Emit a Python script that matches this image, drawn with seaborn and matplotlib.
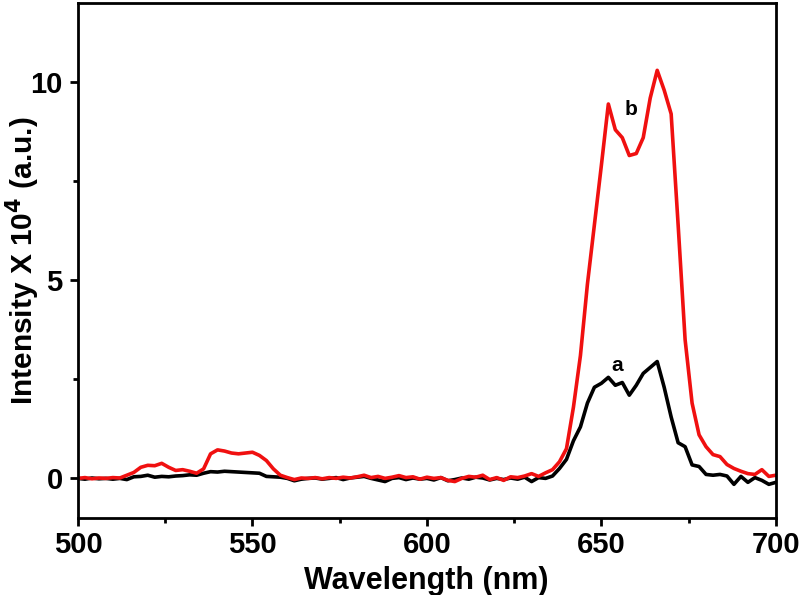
import numpy as np
import pandas as pd
import matplotlib
matplotlib.use("Agg")
import matplotlib.pyplot as plt
import seaborn as sns
from matplotlib.ticker import MultipleLocator

wavelength = list(range(500, 701, 2))

curve_b = [0.00, 0.02, -0.01, 0.01, 0.00, 0.02, 0.01, 0.08, 0.15, 0.28,
           0.33, 0.32, 0.38, 0.28, 0.20, 0.22, 0.18, 0.13, 0.24, 0.62,
           0.72, 0.69, 0.64, 0.62, 0.64, 0.66, 0.58, 0.45, 0.24, 0.08,
           0.02, -0.03, 0.01, 0.00, 0.02, -0.01, 0.02, 0.00, 0.03, 0.01,
           0.04, 0.08, 0.02, 0.05, 0.00, 0.03, 0.07, 0.02, 0.04, -0.02,
           0.03, 0.00, 0.02, -0.05, -0.08, 0.00, 0.05, 0.03, 0.08, -0.03,
           0.02, -0.05, 0.04, 0.02, 0.06, 0.12, 0.05, 0.14, 0.22, 0.42,
           0.75, 1.80, 3.10, 4.90, 6.40, 7.90, 9.45, 8.80, 8.60, 8.15,
           8.20, 8.60, 9.60, 10.30, 9.80, 9.20, 6.40, 3.50, 1.90, 1.10,
           0.80, 0.60, 0.55, 0.35, 0.25, 0.18, 0.12, 0.10, 0.22, 0.05,
           0.08]

curve_a = [0.00, -0.02, 0.01, -0.01, 0.00, -0.02, 0.00, -0.03, 0.04, 0.05,
           0.08, 0.03, 0.05, 0.04, 0.06, 0.07, 0.09, 0.08, 0.13, 0.17,
           0.16, 0.18, 0.17, 0.16, 0.15, 0.14, 0.13, 0.05, 0.04, 0.03,
           0.00, -0.06, -0.02, 0.00, 0.01, -0.02, 0.00, 0.02, -0.03, 0.01,
           0.03, 0.05, 0.00, -0.04, -0.08, 0.00, 0.02, -0.03, 0.01, -0.02,
           0.00, -0.04, 0.02, -0.06, -0.03, 0.01, -0.02, 0.03, 0.01, -0.04,
           0.00, -0.03, 0.01, -0.02, 0.03, -0.08, 0.02, 0.00, 0.06, 0.25,
           0.48, 0.95, 1.30, 1.90, 2.30, 2.40, 2.55, 2.35, 2.42, 2.10,
           2.35, 2.65, 2.80, 2.95, 2.30, 1.55, 0.90, 0.80, 0.34, 0.30,
           0.10, 0.08, 0.10, 0.06, -0.15, 0.05, -0.10, 0.02, -0.05, -0.15,
           -0.10]

series_names = ["a", "b"]
series_colors = ["#000000", "#f01010"]

df = pd.DataFrame({
    "Wavelength": wavelength * 2,
    "Intensity": curve_a + curve_b,
    "sample": ["a"] * len(wavelength) + ["b"] * len(wavelength),
})

sns.set_style("ticks")
plt.rcParams["font.family"] = ["Liberation Sans", "DejaVu Sans"]
plt.rcParams["font.weight"] = "bold"
plt.rcParams["mathtext.default"] = "bf"
for k in ["text.color", "axes.labelcolor", "xtick.color", "ytick.color",
          "axes.edgecolor"]:
    plt.rcParams[k] = "black"

fig = plt.figure(figsize=(7.99, 5.95), dpi=100)
ax = fig.add_axes([0.0976, 0.1294, 0.8734, 0.8656])

sns.lineplot(data=df, x="Wavelength", y="Intensity", hue="sample",
             hue_order=series_names, palette=series_colors,
             linewidth=2.6, legend=False, ax=ax)

ax.set_xlim(500, 700)
ax.set_ylim(-1, 12)
ax.set_xticks([500, 550, 600, 650, 700])
ax.set_yticks([0, 5, 10])
ax.xaxis.set_minor_locator(MultipleLocator(25))
ax.yaxis.set_minor_locator(MultipleLocator(2.5))

for s in ax.spines.values():
    s.set_linewidth(2.0)
    s.set_color("black")
    s.set_visible(True)

ax.tick_params(axis="both", which="major", direction="out", length=6,
               width=2.0, labelsize=21, colors="black")
ax.tick_params(axis="x", which="major", pad=3.5)
ax.tick_params(axis="y", which="major", pad=5)
ax.tick_params(axis="both", which="minor", direction="out", length=3.5,
               width=2.0)
for lab in ax.get_xticklabels() + ax.get_yticklabels():
    lab.set_fontweight("bold")

ax.set_xlabel("Wavelength (nm)", fontsize=22, fontweight="bold")
ax.set_ylabel(r"Intensity X 10$^{\mathbf{4}}$ (a.u.)", fontsize=21.5,
              fontweight="bold")
ax.xaxis.set_label_coords(0.4986, -0.093)
ax.yaxis.set_label_coords(-0.052, 0.5)

ax.text(654.4, 2.85, "a", fontsize=15, fontweight="bold",
        ha="center", va="center")
ax.text(658.6, 9.3, "b", fontsize=15, fontweight="bold",
        ha="center", va="center")

fig.savefig("out.png", dpi=100)
